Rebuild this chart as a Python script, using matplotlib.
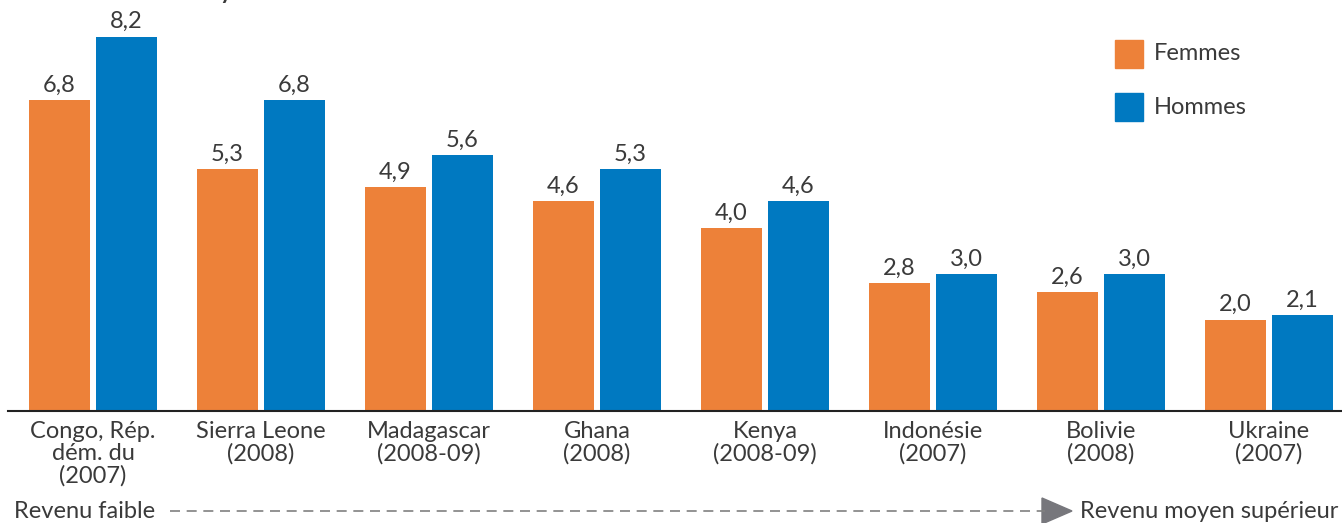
import matplotlib.pyplot as plt
import numpy as np
from matplotlib.patches import Polygon, Rectangle
from matplotlib.lines import Line2D

plt.rcParams['font.family'] = ['Lato', 'DejaVu Sans']

pays = ['Congo, Rép.\ndém. du\n(2007)', 'Sierra Leone\n(2008)', 'Madagascar\n(2008-09)',
        'Ghana\n(2008)', 'Kenya\n(2008-09)', 'Indonésie\n(2007)', 'Bolivie\n(2008)',
        'Ukraine\n(2007)']
femmes = [6.8, 5.3, 4.9, 4.6, 4.0, 2.8, 2.6, 2.0]
hommes = [8.2, 6.8, 5.6, 5.3, 4.6, 3.0, 3.0, 2.1]

orange = '#ED8139'
bleu = '#0079C1'
gris_texte = '#3a3a3a'
fs = 17

W, H = 1342, 523
fig = plt.figure(figsize=(W / 100, H / 100), dpi=100)
# axes : de x=8 a x=1342 px, de y=0 a y=411 px (depuis le haut)
ax = fig.add_axes([8 / W, 1 - 411 / H, 1 - 8 / W, 411 / H])

x = np.arange(len(pays))
larg = 0.363
b1 = ax.bar(x - 0.2, femmes, larg, color=orange, label='Femmes')
b2 = ax.bar(x + 0.2, hommes, larg, color=bleu, label='Hommes')

for barres, vals in [(b1, femmes), (b2, hommes)]:
    for b, v in zip(barres, vals):
        ax.text(b.get_x() + b.get_width() / 2, v + 0.1, f'{v:.1f}'.replace('.', ','),
                ha='center', va='bottom', fontsize=fs, color=gris_texte)

ax.set_xlim(-0.506, 7.435)
ax.set_ylim(0, 9.0)
ax.set_xticks(x)
ax.set_xticklabels(pays, fontsize=fs, color=gris_texte, linespacing=1.08)
ax.tick_params(axis='x', length=0, pad=7)
ax.set_yticks([])
for s in ['top', 'right', 'left']:
    ax.spines[s].set_visible(False)
ax.spines['bottom'].set_color('#222222')
ax.spines['bottom'].set_linewidth(1.5)

# legende
for i, (lab, c) in enumerate([('Femmes', orange), ('Hommes', bleu)]):
    y0 = 40 + i * 53
    fig.patches.append(Rectangle((1115 / W, 1 - (y0 + 28) / H), 28 / W, 28 / H,
                                 transform=fig.transFigure, color=c))
    fig.text(1154 / W, 1 - (y0 + 14) / H, lab, fontsize=fs, color=gris_texte,
             va='center', ha='left')

# titre (coupe en haut, comme dans l'original)
fig.text(45 / W, 1 + 1 / H, "Nombre idéal moyen d'enfants", fontsize=16.5,
         fontweight='bold', color=gris_texte, va='baseline', ha='left')

# fleche revenu
yb = 1 - 511 / H
fig.text(14 / W, yb, 'Revenu faible', fontsize=fs, color=gris_texte, va='center', ha='left')
fig.lines.append(Line2D([170 / W, 1045 / W], [yb, yb], transform=fig.transFigure,
                        color='#808080', linestyle=(0, (6, 4)), linewidth=1.2))
fig.patches.append(Polygon([(1042 / W, 1 - 498 / H), (1042 / W, 1 - 524 / H), (1072 / W, yb)],
                           closed=True, transform=fig.transFigure, color='#77777c'))
fig.text(1080 / W, yb, 'Revenu moyen supérieur', fontsize=fs, color=gris_texte,
         va='center', ha='left')

fig.savefig('out.png', dpi=100)
